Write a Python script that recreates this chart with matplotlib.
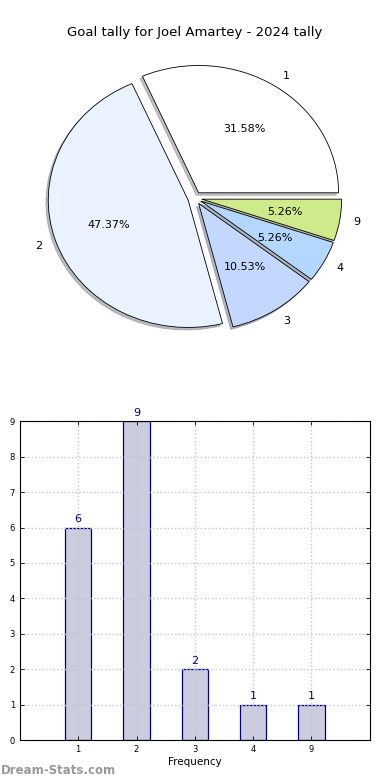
import numpy as np
import matplotlib
matplotlib.use("Agg")
import matplotlib.pyplot as plt

# Donnees
labels = ["1", "2", "3", "4", "9"]
counts = [6, 9, 2, 1, 1]
pie_colors = ["#ffffff", "#eaf1ff", "#c4d8ff", "#b4d7ff", "#cfea8a"]

title = "Goal tally for Joel Amartey - 2024 tally"

fig = plt.figure(figsize=(3.9, 7.8), dpi=100)

# Camembert
ax1 = fig.add_axes([0.051, 0.542, 0.897, 0.408])
wedges, txts, autotxts = ax1.pie(counts, labels=labels, colors=pie_colors,
                                 explode=[0.05] * len(counts),
                                 shadow={"ox": -0.012, "oy": -0.014, "shade": 0.5},
                                 autopct="%1.2f%%", startangle=0,
                                 wedgeprops={"edgecolor": "black", "linewidth": 0.6},
                                 textprops={"fontsize": 8})
ax1.set_aspect("auto")
ax1.set_xlim(-1.25, 1.25)
ax1.set_ylim(-1.25, 1.25)
ax1.set_title(title, fontsize=9.5, pad=2)

# Histogramme
ax2 = fig.add_axes([0.051, 0.051, 0.897, 0.409])
x = np.arange(len(labels))
ax2.bar(x, counts, width=0.45, color="#ccccdf", edgecolor="#000080", linewidth=0.9)
for xi, c in zip(x, counts):
    ax2.text(xi, c + 0.1, str(c), ha="center", va="bottom", color="#000080", fontsize=8)
ax2.set_xlim(-1, len(labels))
ax2.set_ylim(0, 9)
ax2.set_xticks(x)
ax2.set_xticklabels(labels)
ax2.set_yticks(range(0, 10))
ax2.tick_params(labelsize=6, direction="in", top=True, right=True, length=3, width=0.6)
ax2.grid(True, linestyle=":", color="#c4c4c4", linewidth=1)
ax2.set_axisbelow(False)
for sp in ax2.spines.values():
    sp.set_zorder(3)
ax2.set_xlabel("Frequency", fontsize=7.5, labelpad=2)
ax2.set_ylabel("Stat Intervals", fontsize=7.5, labelpad=5)

fig.text(0.003, 0.008, "Dream-Stats.com", color="#999999", fontsize=8.5, fontweight="bold")

plt.savefig("out.png", dpi=100)
